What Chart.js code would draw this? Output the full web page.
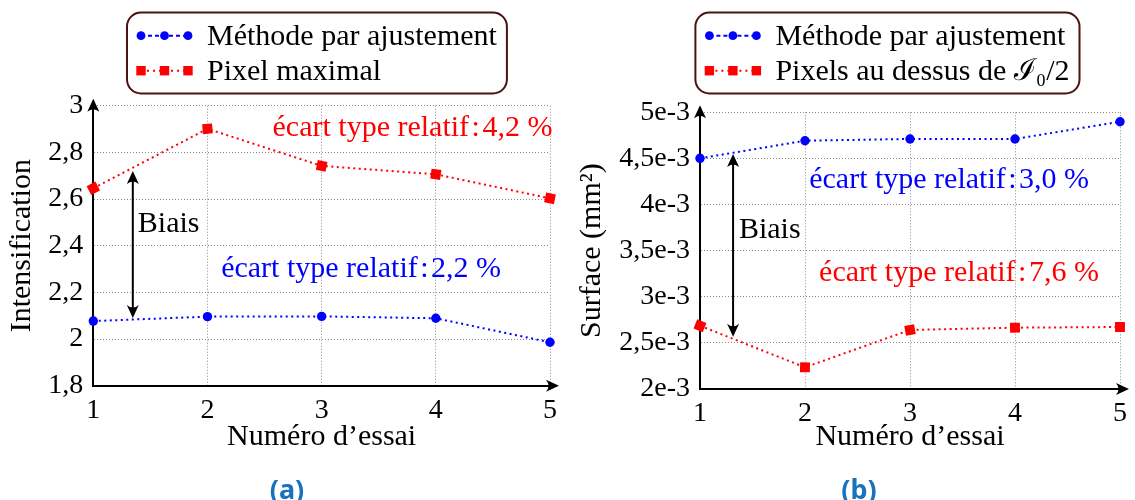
<!DOCTYPE html>
<html>
<head>
<meta charset="utf-8">
<script src="https://cdn.jsdelivr.net/npm/chart.js@4.4.1/dist/chart.umd.min.js"></script>
<style>
  body { margin: 0; background: #fff; width: 1135px; height: 500px; position: relative; overflow: hidden; }
  canvas { position: absolute; top: 0; }
  .cap { position: absolute; top: 470px; width: 60px; text-align: center; line-height: 32px;
         font: bold 27px "Noto Sans", sans-serif; color: #1a72bd; }
</style>
</head>
<body>
<canvas id="chartA" width="565" height="500" style="left:0"></canvas>
<canvas id="chartB" width="570" height="500" style="left:565px"></canvas>
<div class="cap" style="left:257px">(a)</div>
<div class="cap" style="left:829px">(b)</div>
<script>
// --- data ---
const essais = ['1', '2', '3', '4', '5'];

// (a) intensification
const intensAjust    = [2.077, 2.096, 2.097, 2.089, 1.986];
const intensPixelMax = [2.646, 2.901, 2.742, 2.706, 2.603];
const intensTicks    = [1.8, 2, 2.2, 2.4, 2.6, 2.8, 3];

// (b) surface in mm²
const surfAjust   = [4.501e-3, 4.692e-3, 4.711e-3, 4.711e-3, 4.898e-3];
const surfPixels  = [2.686e-3, 2.235e-3, 2.640e-3, 2.665e-3, 2.672e-3];
const surfTicks   = [2e-3, 2.5e-3, 3e-3, 3.5e-3, 4e-3, 4.5e-3, 5e-3];

const SERIF = '"Liberation Serif", "Times New Roman", serif';
const BLUE = '#0000ff';
const RED = '#ff0000';

// squares are turned along the curve, like the original marks
function slopeRotation(c) {
  const chart = c.chart, i = c.dataIndex, data = c.dataset.data;
  const xs = chart.scales.x, ys = chart.scales.y;
  if (!xs || !ys) return 0;
  const px = k => xs.getPixelForValue(k), py = k => ys.getPixelForValue(data[k]);
  let a = 0, n = 0;
  if (i > 0) { a += Math.atan2(py(i) - py(i - 1), px(i) - px(i - 1)); n++; }
  if (i < data.length - 1) { a += Math.atan2(py(i + 1) - py(i), px(i + 1) - px(i)); n++; }
  const deg = n ? a / n * 180 / Math.PI : 0;
  return isFinite(deg) ? deg : 0;
}

function serie(label, data, color, style) {
  return {
    label: label,
    data: data,
    borderColor: color,
    backgroundColor: color,
    borderWidth: 2,
    borderDash: [2, 3.5],
    pointStyle: style,
    pointRadius: style === 'rect' ? 7 : 4.7,
    pointBorderWidth: 0,
    pointRotation: style === 'rect' ? slopeRotation : 0,
    tension: 0,
    fill: false,
    clip: false,
  };
}

function arrowHead(ctx, x, y, angle) {
  ctx.save();
  ctx.translate(x, y);
  ctx.rotate(angle);
  ctx.beginPath();
  ctx.moveTo(0, 0);
  ctx.lineTo(-13, -6);
  ctx.quadraticCurveTo(-8, 0, -13, 6);
  ctx.closePath();
  ctx.fill();
  ctx.restore();
}

// axis arrows, drawn under the datasets
const axesArrows = {
  id: 'axesArrows',
  beforeDatasetsDraw(chart) {
    const {ctx, chartArea: a} = chart;
    ctx.save();
    ctx.strokeStyle = '#000';
    ctx.fillStyle = '#000';
    ctx.lineWidth = 2;
    ctx.beginPath();
    ctx.moveTo(a.left, a.top + 1);
    ctx.lineTo(a.left, a.top - 4);
    ctx.moveTo(a.right - 1, a.bottom);
    ctx.lineTo(a.right + 3, a.bottom);
    ctx.stroke();
    arrowHead(ctx, a.left, a.top - 7, -Math.PI / 2);
    arrowHead(ctx, a.right + 9, a.bottom, 0);
    ctx.restore();
  }
};

// legend in a rounded box, samples with three marks
const boxLegend = {
  id: 'boxLegend',
  afterDraw(chart, args, opts) {
    const ctx = chart.ctx;
    const sets = chart.data.datasets;
    ctx.save();
    ctx.font = '30px ' + SERIF;
    const textX = opts.left + 80;
    const w = Math.max(...sets.map(d => ctx.measureText(d.label).width));
    ctx.beginPath();
    ctx.roundRect(opts.left, opts.top, textX + w + 10 - opts.left, opts.bottom - opts.top, 14);
    ctx.lineWidth = 2;
    ctx.strokeStyle = '#4a1212';
    ctx.stroke();
    sets.forEach((d, i) => {
      const y = opts.rows[i];
      ctx.strokeStyle = d.borderColor;
      ctx.fillStyle = d.borderColor;
      ctx.lineWidth = 2;
      ctx.setLineDash(i === 0 ? [4, 3] : [2, 4]);
      ctx.beginPath();
      ctx.moveTo(opts.left + 14, y);
      ctx.lineTo(opts.left + 61, y);
      ctx.stroke();
      ctx.setLineDash([]);
      [14, 37.5, 61].forEach(dx => {
        ctx.beginPath();
        if (d.pointStyle === 'rect') ctx.rect(opts.left + dx - 4.7, y - 4.7, 9.4, 9.4);
        else ctx.arc(opts.left + dx, y, 4.4, 0, Math.PI * 2);
        ctx.fill();
      });
      ctx.fillStyle = '#000';
      ctx.textBaseline = 'middle';
      ctx.textAlign = 'left';
      ctx.fillText(d.label, textX, y + 1);
    });
    ctx.restore();
  }
};

// text notes and the "Biais" double arrow, placed in data units
const notes = {
  id: 'notes',
  afterDatasetsDraw(chart, args, opts) {
    const {ctx, scales: {x: xs, y: ys}} = chart;
    const px = e => xs.getPixelForValue(e - 1);
    const py = v => ys.getPixelForValue(v);
    ctx.save();
    ctx.font = '30px ' + SERIF;
    ctx.textAlign = 'left';
    ctx.textBaseline = 'alphabetic';
    opts.texts.forEach(t => {
      ctx.fillStyle = t.color;
      ctx.fillText(t.text, px(t.x), py(t.y));
    });
    const b = opts.biais;
    const x = px(b.x), y1 = py(b.y1), y2 = py(b.y2);
    ctx.strokeStyle = '#000';
    ctx.fillStyle = '#000';
    ctx.lineWidth = 2;
    ctx.beginPath();
    ctx.moveTo(x, y1 + 8);
    ctx.lineTo(x, y2 - 8);
    ctx.stroke();
    arrowHead(ctx, x, y1, -Math.PI / 2);
    arrowHead(ctx, x, y2, Math.PI / 2);
    ctx.fillText('Biais', px(b.textX), py(b.textY));
    ctx.restore();
  }
};

const gridOpts = { color: '#8c8c8c', lineWidth: 1, drawTicks: false };
const borderOpts = { display: true, color: '#000', width: 2, dash: [1, 2] };

function buildOptions(o) {
  return {
    responsive: false,
    animation: false,
    events: [],
    layout: { padding: o.padding },
    plugins: {
      legend: { display: false },
      tooltip: { enabled: false },
      boxLegend: o.legend,
      notes: o.notes,
    },
    scales: {
      x: {
        type: 'category',
        offset: false,
        grid: gridOpts,
        border: borderOpts,
        ticks: { color: '#000', font: { family: SERIF, size: 28 }, padding: 8, maxRotation: 0, autoSkip: false },
        title: {
          display: true, text: 'Numéro d’essai', color: '#000',
          font: { family: SERIF, size: 30 }, padding: { top: 0, bottom: o.xTitlePad }
        },
        afterFit: s => { s.height = 70; }
      },
      y: {
        type: 'linear',
        min: o.ticks[0],
        max: o.ticks[o.ticks.length - 1],
        afterBuildTicks: s => { s.ticks = o.ticks.map(v => ({ value: v })); },
        grid: gridOpts,
        border: borderOpts,
        ticks: { color: '#000', font: { family: SERIF, size: 28 }, padding: 10, callback: o.fmt },
        title: {
          display: true, text: o.yTitle, color: '#000',
          font: { family: SERIF, size: 30 }, padding: { top: o.yTitlePad, bottom: 0 }
        },
        afterFit: s => { s.width = o.yWidth; }
      }
    }
  };
}

new Chart(document.getElementById('chartA'), {
  type: 'line',
  data: {
    labels: essais,
    datasets: [
      serie('Méthode par ajustement', intensAjust, BLUE, 'circle'),
      serie('Pixel maximal', intensPixelMax, RED, 'rect'),
    ]
  },
  options: buildOptions({
    padding: { top: 105.7, right: 9, bottom: 44.3, left: 0 },
    yWidth: 93.3,
    xTitlePad: 0.7,
    yTitlePad: 4,
    yTitle: 'Intensification',
    ticks: intensTicks,
    fmt: v => String(Number(v.toFixed(1))).replace('.', ','),
    legend: { left: 127, top: 12.5, bottom: 93.5, rows: [35.7, 70.7] },
    notes: {
      texts: [
        { text: 'écart type relatif\u200A:\u200A4,2 %', color: RED, x: 2.57, y: 2.871 },
        { text: 'écart type relatif\u200A:\u200A2,2 %', color: BLUE, x: 2.12, y: 2.265 },
      ],
      biais: { x: 1.346, y1: 2.72, y2: 2.09, textX: 1.39, textY: 2.46 }
    }
  }),
  plugins: [axesArrows, boxLegend, notes]
});

new Chart(document.getElementById('chartB'), {
  type: 'line',
  data: {
    labels: essais,
    datasets: [
      serie('Méthode par ajustement', surfAjust, BLUE, 'circle'),
      serie('Pixels au dessus de ℐ₀/2', surfPixels, RED, 'rect'),
    ]
  },
  options: buildOptions({
    padding: { top: 112.3, right: 11.7, bottom: 41, left: 0 },
    yWidth: 135,
    xTitlePad: 4.3,
    yTitlePad: 9,
    yTitle: 'Surface (mm²)',
    ticks: surfTicks,
    fmt: v => String(Number((v * 1000).toFixed(1))).replace('.', ',') + 'e-3',
    legend: { left: 130.4, top: 12.5, bottom: 93.5, rows: [35.7, 70.7] },
    notes: {
      texts: [
        { text: 'écart type relatif\u200A:\u200A3,0 %', color: BLUE, x: 2.04, y: 4.1825e-3 },
        { text: 'écart type relatif\u200A:\u200A7,6 %', color: RED, x: 2.134, y: 3.174e-3 },
      ],
      biais: { x: 1.315, y1: 4.549e-3, y2: 2.567e-3, textX: 1.371, textY: 3.64e-3 }
    }
  }),
  plugins: [axesArrows, boxLegend, notes]
});
</script>
</body>
</html>
